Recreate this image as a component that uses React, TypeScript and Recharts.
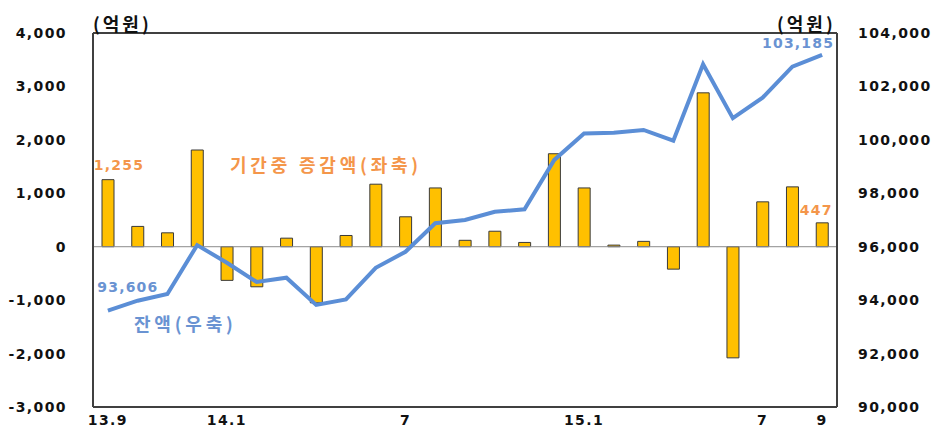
import {
  ComposedChart,
  Bar,
  Line,
  XAxis,
  YAxis,
  ReferenceLine,
  LabelList,
} from 'recharts';

const months = [
  '13.9', '13.10', '13.11', '13.12',
  '14.1', '14.2', '14.3', '14.4', '14.5', '14.6', '14.7', '14.8', '14.9', '14.10', '14.11', '14.12',
  '15.1', '15.2', '15.3', '15.4', '15.5', '15.6', '15.7', '15.8', '15.9',
];
// 기간중 증감액 (좌축, 억원)
const changeValues = [
  1255, 380, 260, 1810,
  -630, -750, 160, -1050, 210, 1170, 560, 1100, 120, 290, 80, 1740,
  1100, 30, 100, -420, 2880, -2080, 840, 1120, 447,
];
// 잔액 (우축, 억원)
const balanceValues = [
  93606, 93980, 94230, 96060,
  95400, 94680, 94840, 93820, 94030, 95210, 95810, 96880, 97000, 97310, 97400, 99250,
  100240, 100270, 100370, 99970, 102830, 100810, 101580, 102740, 103185,
];
const tickLabels: Record<string, string> = {
  '13.9': '13.9',
  '14.1': '14.1',
  '14.7': '7',
  '15.1': '15.1',
  '15.7': '7',
  '15.9': '9',
};
const leftTicks = [-3000, -2000, -1000, 0, 1000, 2000, 3000, 4000];
const rightTicks = [90000, 92000, 94000, 96000, 98000, 100000, 102000, 104000];

const chartData = months.map((m, i) => ({
  month: m,
  change: changeValues[i],
  balance: balanceValues[i],
}));

const ORANGE = '#F4964A';
const BLUE = '#5B8ED6';
const LABEL_BLUE = '#6A93D2';
const numFont = '"DejaVu Sans", Verdana, sans-serif';
const krFont = '"Noto Sans CJK KR", sans-serif';

const fmt = (v: number) => v.toLocaleString('en-US');
const last = months.length - 1;

const changeLabel = (props: any) => {
  const { x, y, width, index, value } = props;
  if (index !== 0 && index !== last) return null;
  const cx = x + width / 2;
  const dx = index === 0 ? 11 : -6;
  const dy = index === 0 ? -15 : -13;
  return (
    <text x={cx + dx} y={y + dy} textAnchor="middle" dominantBaseline="central"
      fill={ORANGE} fontFamily={numFont} fontWeight="bold" fontSize={14} letterSpacing={1.2}>
      {fmt(value)}
    </text>
  );
};

const balanceLabel = (props: any) => {
  const { x, y, index, value } = props;
  if (index !== 0 && index !== last) return null;
  const dx = index === 0 ? 20 : -24;
  const dy = index === 0 ? -24 : -12;
  return (
    <text x={x + dx} y={y + dy} textAnchor="middle" dominantBaseline="central"
      fill={LABEL_BLUE} fontFamily={numFont} fontWeight="bold" fontSize={14} letterSpacing={1.2}>
      {fmt(value)}
    </text>
  );
};

const tickStyle = {
  fill: '#111',
  fontFamily: numFont,
  fontWeight: 'bold',
  fontSize: 14,
  letterSpacing: 1.4,
};

const overlay = (x: number, y: number, color: string, size: number, spacing: number) => ({
  position: 'absolute' as const,
  left: x,
  top: y,
  color,
  fontFamily: krFont,
  fontWeight: 'bold' as const,
  fontSize: size,
  letterSpacing: spacing,
  lineHeight: 1,
  whiteSpace: 'nowrap' as const,
});

export default function App() {
  return (
    <div style={{ position: 'absolute', left: 0, top: 0, width: 937, height: 432, background: '#fff' }}>
      <ComposedChart width={937} height={432} data={chartData}
        margin={{ top: 33, right: 0, bottom: 0, left: 0 }}>
        <XAxis dataKey="month" height={25} interval={0} tickLine={false} tickSize={0} tickMargin={8}
          axisLine={{ stroke: '#404040', strokeWidth: 2 }}
          tick={tickStyle} tickFormatter={(m: string) => tickLabels[m] ?? ''} />
        <YAxis yAxisId="left" orientation="left" width={93} domain={[-3000, 4000]} ticks={leftTicks}
          interval={0} tickLine={false} tickSize={0} tickMargin={26}
          axisLine={{ stroke: '#404040', strokeWidth: 2 }}
          tick={tickStyle} tickFormatter={fmt} />
        <YAxis yAxisId="right" orientation="right" width={100} domain={[90000, 104000]} ticks={rightTicks}
          interval={0} tickLine={false} tickSize={0} tickMargin={21}
          axisLine={{ stroke: '#404040', strokeWidth: 2 }}
          tick={{ ...tickStyle, textAnchor: 'start' }} tickFormatter={fmt} />
        <ReferenceLine yAxisId="left" y={4000} stroke="#404040" strokeWidth={2} />
        <ReferenceLine yAxisId="left" y={0} stroke="#8c8c8c" strokeWidth={1} />
        <Bar yAxisId="left" dataKey="change" fill="#FFC000" stroke="#3a3a3a" strokeWidth={1}
          barSize={12} isAnimationActive={false}>
          <LabelList dataKey="change" content={changeLabel} />
        </Bar>
        <Line yAxisId="right" dataKey="balance" type="linear" stroke={BLUE} strokeWidth={4}
          dot={false} activeDot={false} isAnimationActive={false}>
          <LabelList dataKey="balance" content={balanceLabel} />
        </Line>
      </ComposedChart>
      <div style={overlay(93, 14, '#111', 18, 3)}>(억원)</div>
      <div style={overlay(777, 14, '#111', 18, 3)}>(억원)</div>
      <div style={overlay(230, 155, ORANGE, 18, 3.8)}>기간중 증감액(좌축)</div>
      <div style={overlay(134, 314, LABEL_BLUE, 18, 3.8)}>잔액(우축)</div>
    </div>
  );
}
